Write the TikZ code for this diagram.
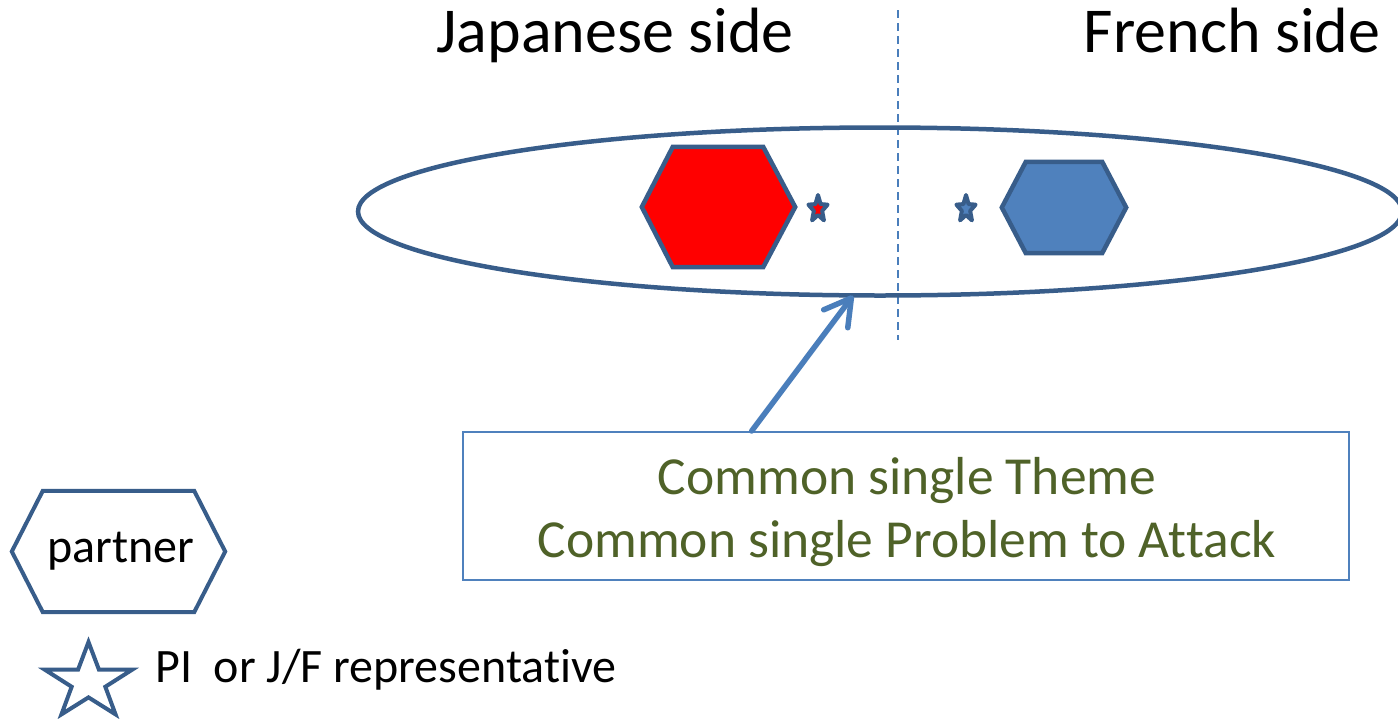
\documentclass[tikz,border=0pt]{standalone}
\usepackage{fontspec}
\setmainfont{Carlito}[Ligatures=CommonOff]
\usetikzlibrary{shapes.geometric,arrows.meta,calc}
\definecolor{outl}{HTML}{385D8A}
\definecolor{bluefill}{HTML}{4F81BD}
\definecolor{arrowblue}{HTML}{4A7EBB}
\definecolor{olive}{HTML}{4F6228}
\tikzset{
  hexbox/.style={rectangle, draw=none, inner sep=0pt},
  hexline/.style={draw=outl, line width=4.5pt, line join=miter},
  smallstar/.style={star, star points=5, star point ratio=2.3, minimum size=28pt, inner sep=0pt, draw=outl, line width=4pt, line join=round, xscale=0.72},
  bigtitle/.style={inner sep=0pt, anchor=base, font=\fontsize{64}{77}\selectfont},
  boxtext/.style={inner sep=0pt, anchor=base, text=olive, font=\fontsize{53.5}{63}\selectfont},
  legendtext/.style={inner sep=0pt, font=\fontsize{48}{57}\selectfont},
}
\begin{document}
\begin{tikzpicture}[x=1pt,y=-1pt]
\useasboundingbox (0,0) rectangle (1398,718);
\fill[white] (0,0) rectangle (1398,718);

% titles
\node[bigtitle] (jp) at (615,52) {Japanese side};
\node[bigtitle] (fr) at (1232,52) {French side};

% dashed divider
\coordinate (dtop) at (898,10);
\coordinate (dbot) at (898,340);
\draw[arrowblue, line width=2pt, dash pattern=on 8pt off 5pt] (dtop) -- (dbot);

% big ellipse
\node[ellipse, draw=outl, line width=4.5pt, minimum width=1044pt, minimum height=168pt, inner sep=0pt] (ell) at (880,211.5) {};

% red hexagon
\node[hexbox, minimum width=153pt, minimum height=120pt] (red) at (718.5,207) {};
\path[hexline, fill=red] (red.west) -- ([xshift=31pt]red.north west) -- ([xshift=-32pt]red.north east) -- (red.east) -- ([xshift=-32pt]red.south east) -- ([xshift=31pt]red.south west) -- cycle;

% blue hexagon
\node[hexbox, minimum width=124pt, minimum height=91pt] (blue) at (1064,207.5) {};
\path[hexline, fill=bluefill] (blue.west) -- ([xshift=24pt]blue.north west) -- ([xshift=-24pt]blue.north east) -- (blue.east) -- ([xshift=-24pt]blue.south east) -- ([xshift=24pt]blue.south west) -- cycle;

% small stars
\node[smallstar, fill=red] (sred) at (818,209) {};
\node[smallstar, fill=bluefill] (sblue) at (966,209) {};

% box
\node[rectangle, draw=bluefill, line width=2pt, minimum width=886pt, minimum height=148pt, inner sep=0pt] (box) at (906,506) {};
\node[boxtext] (t1) at (907,494) {Common single Theme};
\node[boxtext] (t2) at (907,557) {Common single Problem to At\kern0pt tack};

% arrow
\coordinate (atail) at ($(box.north west)!0.3262!(box.north east)$);
\coordinate (ahead) at ($(ell.south)+(-27pt,2pt)$);
\draw[arrowblue, line width=5.5pt, line cap=round, -{Straight Barb[length=26pt, width=30pt, line cap=round, line join=round]}] (atail) -- (ahead);

% legend
\node[hexbox, minimum width=213pt, minimum height=121pt] (leghex) at (118.5,551.5) {};
\path[hexline, line width=4pt] (leghex.west) -- ([xshift=31pt]leghex.north west) -- ([xshift=-31pt]leghex.north east) -- (leghex.east) -- ([xshift=-31pt]leghex.south east) -- ([xshift=31pt]leghex.south west) -- cycle;
\node[legendtext, anchor=base] (legp) at (121,562) {partner};

\node[star, star points=5, star point ratio=2.6, minimum size=80pt, inner sep=0pt, draw=outl, line width=4pt, xscale=1.15] (legstar) at (88.5,682) {};
\node[legendtext, anchor=base west] (legs) at (155,682) {PI~~or J/F representative};
\end{tikzpicture}
\end{document}
